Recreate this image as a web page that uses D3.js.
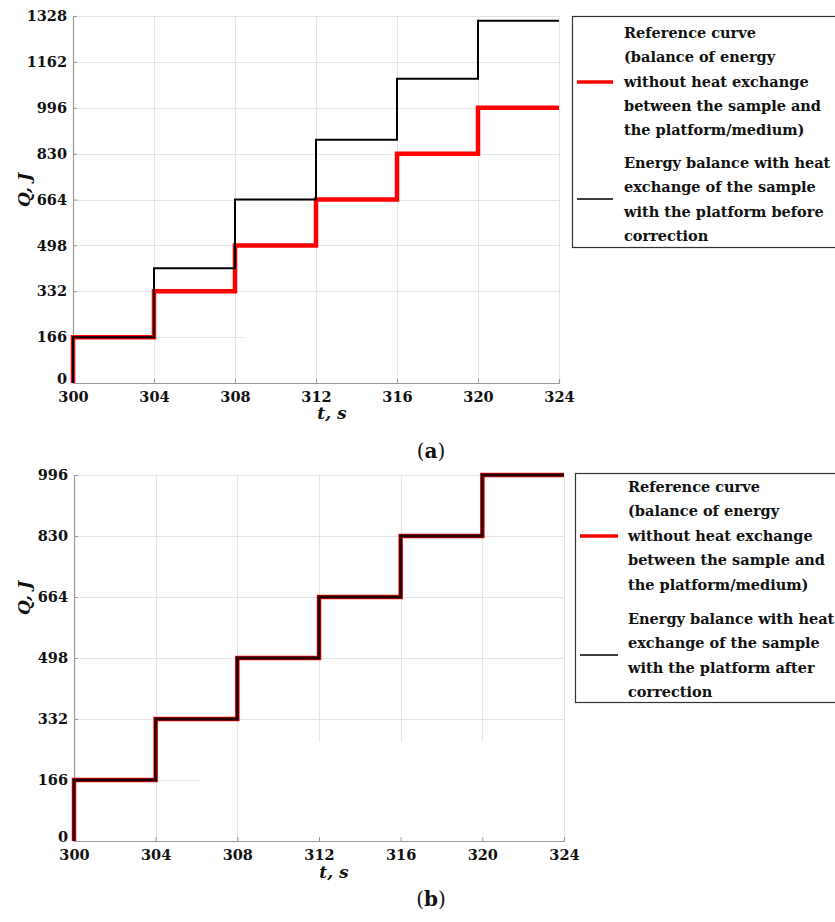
<!DOCTYPE html>
<html>
<head>
<meta charset="utf-8">
<script src="https://cdn.jsdelivr.net/npm/d3@7/dist/d3.min.js"></script>
<style>
  html, body { margin: 0; padding: 0; background: #fff; }
  svg { display: block; }
  text { font-family: "DejaVu Serif", "Liberation Serif", serif; fill: #111; }
</style>
</head>
<body>
<svg id="chart" width="835" height="922"></svg>
<script>
// ---- data ----
const stepTimes = [300, 304, 308, 312, 316, 320, 324];
const tTicks = [300, 304, 308, 312, 316, 320, 324];
const qTicksA = [0, 166, 332, 498, 664, 830, 996, 1162, 1328];
const qTicksB = [0, 166, 332, 498, 664, 830, 996];
const referenceQ = [166, 332, 498, 664, 830, 996];
const beforeCorrectionQ = [166, 415, 664, 880, 1101, 1311];
const afterCorrectionQ = [166, 332, 498, 664, 830, 996];
const legendRefLines = ["Reference curve", "(balance of energy", "without heat exchange", "between the sample and", "the platform/medium)"];
const legendBeforeLines = ["Energy balance with heat", "exchange of the sample", "with the platform before", "correction"];
const legendAfterLines = ["Energy balance with heat", "exchange of the sample", "with the platform after", "correction"];

const svg = d3.select("#chart");

function stepPoints(values) {
  const pts = [[stepTimes[0], 0]];
  values.forEach((v, i) => pts.push([stepTimes[i], v]));
  pts.push([stepTimes[stepTimes.length - 1], values[values.length - 1]]);
  return pts;
}

function panel(cfg) {
  const g = svg.append("g");
  const x = d3.scaleLinear().domain([300, 324]).range([cfg.left, cfg.right]);
  const y = d3.scaleLinear().domain([0, cfg.qTicks[cfg.qTicks.length - 1]]).range([cfg.bottom, cfg.top]);

  // grid
  const grid = g.append("g").attr("stroke", "#e4e4e4").attr("stroke-width", 1);
  cfg.qTicks.forEach(q => {
    if (q === 0) return;
    const xEnd = (cfg.shortH && cfg.shortH[q]) ? cfg.shortH[q] : cfg.right;
    grid.append("line").attr("x1", cfg.left).attr("x2", xEnd)
      .attr("y1", Math.round(y(q)) + 0.5).attr("y2", Math.round(y(q)) + 0.5);
  });
  tTicks.forEach(t => {
    if (t === 300) return;
    const yEnd = (cfg.shortV && cfg.shortV[t]) ? cfg.shortV[t] : cfg.bottom;
    grid.append("line").attr("x1", Math.round(x(t)) + 0.5).attr("x2", Math.round(x(t)) + 0.5)
      .attr("y1", cfg.top).attr("y2", yEnd);
  });

  // axes
  const xAxis = d3.axisBottom(x).tickValues(tTicks).tickSize(-4).tickPadding(9).tickFormat(d3.format("d"));
  const gx = g.append("g").attr("transform", `translate(0,${cfg.bottom})`).call(xAxis);
  gx.select(".domain").attr("stroke", "#9a9a9a").attr("stroke-width", 1.2);
  gx.selectAll(".tick line").attr("stroke", "#9a9a9a");
  gx.selectAll(".tick text").attr("font-size", 14.5).attr("font-weight", "bold")
    .attr("font-family", "DejaVu Serif").attr("fill", "#111");

  const yAxis = d3.axisLeft(y).tickValues(cfg.qTicks).tickSize(-4).tickPadding(6).tickFormat(d3.format("d"));
  const gy = g.append("g").attr("transform", `translate(${cfg.left},0)`).call(yAxis);
  gy.select(".domain").attr("stroke", "#9a9a9a").attr("stroke-width", 1.2);
  gy.selectAll(".tick line").attr("stroke", "#9a9a9a");
  gy.selectAll(".tick text").attr("font-size", 14.5).attr("font-weight", "bold")
    .attr("font-family", "DejaVu Serif").attr("fill", "#111")
    .attr("dy", d => d === 0 ? "0.05em" : "0.32em");

  // lines
  const line = d3.line().x(d => x(d[0])).y(d => y(d[1])).curve(d3.curveStepAfter);
  g.append("path").datum(stepPoints(referenceQ)).attr("d", line)
    .attr("fill", "none").attr("stroke", "#ff0000").attr("stroke-width", 4.5);
  g.append("path").datum(stepPoints(cfg.black)).attr("d", line)
    .attr("fill", "none").attr("stroke", cfg.blackColor).attr("stroke-width", cfg.blackWidth);

  // axis labels
  g.append("text").attr("x", cfg.tLabelX).attr("y", cfg.tLabelY).attr("text-anchor", "middle")
    .attr("font-size", 17).attr("font-style", "italic").attr("font-weight", "bold")
    .attr("font-family", "DejaVu Serif").text("t, s");
  g.append("text").attr("transform", `translate(${cfg.qLabelX},${cfg.qLabelY}) rotate(-90)`)
    .attr("text-anchor", "middle").attr("font-size", 17).attr("font-style", "italic").attr("font-weight", "bold")
    .attr("font-family", "DejaVu Serif").text("Q, J");

  // caption
  const cap = g.append("text").attr("x", 431).attr("y", cfg.capY).attr("text-anchor", "middle")
    .attr("font-size", 20).attr("font-family", "DejaVu Serif");
  cap.append("tspan").text("(");
  cap.append("tspan").attr("font-weight", "bold").text(cfg.cap);
  cap.append("tspan").text(")");

  // legend
  const L = cfg.legend;
  g.append("rect").attr("x", L.x + 0.5).attr("y", L.y + 0.5).attr("width", 900).attr("height", L.h)
    .attr("fill", "#fff").attr("stroke", "#333").attr("stroke-width", 1.2);
  g.append("line").attr("x1", L.lx1).attr("x2", L.lx2).attr("y1", L.redY).attr("y2", L.redY)
    .attr("stroke", "#ff0000").attr("stroke-width", 3.5);
  g.append("line").attr("x1", L.lx1).attr("x2", L.lx2).attr("y1", L.blackY).attr("y2", L.blackY)
    .attr("stroke", "#000").attr("stroke-width", 1.6);
  const lt = g.append("g").attr("font-size", 14.5).attr("font-weight", "bold");
  legendRefLines.forEach((s, i) => {
    lt.append("text").attr("x", L.tx).attr("y", L.ref0 + i * L.dy).attr("dy", "0.35em").text(s);
  });
  cfg.blackLines.forEach((s, i) => {
    lt.append("text").attr("x", L.tx).attr("y", L.black0 + i * L.dy).attr("dy", "0.35em").text(s);
  });
}

panel({
  left: 73, right: 559, top: 16, bottom: 383,
  qTicks: qTicksA, black: beforeCorrectionQ, blackColor: "#000", blackWidth: 2,
  shortH: {166: 243}, shortV: null,
  tLabelX: 332, tLabelY: 419, qLabelX: 30, qLabelY: 190,
  capY: 458, cap: "a",
  blackLines: legendBeforeLines,
  legend: {x: 572, y: 16, h: 231, lx1: 577, lx2: 613, redY: 82, blackY: 199, tx: 624, ref0: 33, black0: 163, dy: 24.3}
});

panel({
  left: 74, right: 564, top: 475, bottom: 841,
  qTicks: qTicksB, black: afterCorrectionQ, blackColor: "#200000", blackWidth: 2.8,
  shortH: {166: 200}, shortV: {312: 742, 316: 742, 320: 742},
  tLabelX: 334, tLabelY: 878, qLabelX: 30, qLabelY: 598,
  capY: 906, cap: "b",
  blackLines: legendAfterLines,
  legend: {x: 575, y: 473, h: 229, lx1: 580, lx2: 618, redY: 536, blackY: 655, tx: 628, ref0: 487, black0: 619, dy: 24.4}
});
</script>
</body>
</html>
